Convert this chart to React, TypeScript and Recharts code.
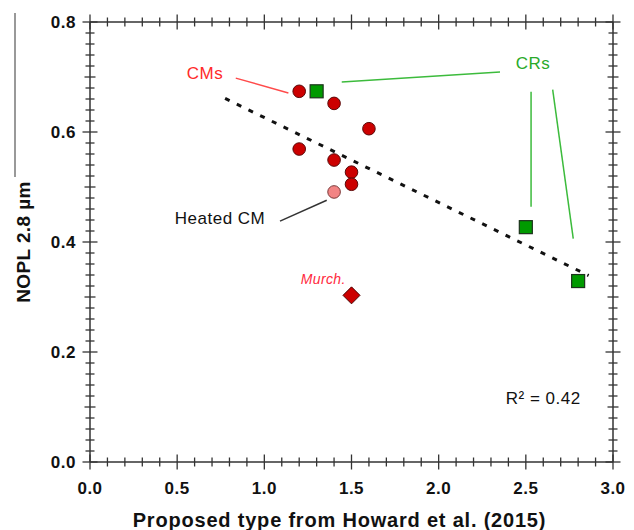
import React from "react";
import {
  ReferenceDot,
  ReferenceLine,
  Scatter,
  ScatterChart,
  XAxis,
  YAxis
} from "recharts";

// values
const cmPoints = [
  { x: 1.2, y: 0.674 },
  { x: 1.2, y: 0.569 },
  { x: 1.4, y: 0.652 },
  { x: 1.6, y: 0.606 },
  { x: 1.4, y: 0.549 },
  { x: 1.5, y: 0.527 },
  { x: 1.5, y: 0.505 }
];
const heatedCmPoints = [{ x: 1.4, y: 0.491 }];
const crPoints = [
  { x: 1.3, y: 0.674 },
  { x: 2.5, y: 0.427 },
  { x: 2.8, y: 0.329 }
];
const murchisonPoints = [{ x: 1.5, y: 0.303 }];
const trendLine = [
  { x: 0.775, y: 0.661 },
  { x: 2.86, y: 0.339 }
];

const xMajorTicks = [0, 0.5, 1, 1.5, 2, 2.5, 3];
const yMajorTicks = [0, 0.2, 0.4, 0.6, 0.8];
const xMinorStep = 0.1;
const yMinorStep = 0.02;

const notes = [
  { text: "CMs", x: 0.66, y: 0.707, color: "#ff2a2a", size: 17, italic: false },
  { text: "CRs", x: 2.541, y: 0.725, color: "#2aaa2a", size: 17, italic: false },
  { text: "Heated CM", x: 0.746, y: 0.443, color: "#111", size: 17, italic: false },
  { text: "R² = 0.42", x: 2.6, y: 0.117, color: "#111", size: 17, italic: false },
  { text: "Murch.", x: 1.338, y: 0.332, color: "#ff2a40", size: 14, italic: true }
];

const leaders = [
  { x1: 0.836, y1: 0.698, x2: 1.138, y2: 0.671, color: "#ff4a4a" },
  { x1: 1.444, y1: 0.691, x2: 2.352, y2: 0.709, color: "#3cbb3c" },
  { x1: 2.53, y1: 0.673, x2: 2.53, y2: 0.464, color: "#3cbb3c" },
  { x1: 2.654, y1: 0.677, x2: 2.772, y2: 0.406, color: "#3cbb3c" },
  { x1: 1.09, y1: 0.438, x2: 1.358, y2: 0.476, color: "#333" }
];

const FONT = "'Liberation Sans', Arial, sans-serif";
const AXIS = "#333";

function makeTicks(max: number, step: number) {
  const out: number[] = [];
  for (let i = 0; i * step <= max + 1e-9; i++) out.push(Math.round(i * step * 1000) / 1000);
  return out;
}
const xTicks = makeTicks(3, xMinorStep);
const yTicks = makeTicks(0.8, yMinorStep);

const isMajor = (v: number, list: number[]) => list.some((m) => Math.abs(m - v) < 1e-6);

function tickLen(v: number, list: number[], mid: number) {
  if (isMajor(v, list)) return 7.5;
  if (Math.abs(v / mid - Math.round(v / mid)) < 1e-6) return 5.5;
  return 4.5;
}

const labelStyle = {
  fontFamily: FONT,
  fontWeight: 700,
  fontSize: 17,
  letterSpacing: 0.5,
  fill: "#111"
};

function XTick(props: any, withLabel: boolean) {
  const { x, y, payload } = props;
  const h = tickLen(payload.value, xMajorTicks, 0.5);
  return (
    <g>
      <line x1={x} x2={x} y1={y - h} y2={y + h} stroke={AXIS} strokeWidth={1.3} />
      {withLabel && isMajor(payload.value, xMajorTicks) && (
        <text x={x} y={y + 32} textAnchor="middle" style={labelStyle}>
          {payload.value.toFixed(1)}
        </text>
      )}
    </g>
  );
}

function YTick(props: any, withLabel: boolean) {
  const { x, y, payload } = props;
  const h = tickLen(payload.value, yMajorTicks, 0.1);
  return (
    <g>
      <line x1={x - h} x2={x + h} y1={y} y2={y} stroke={AXIS} strokeWidth={1.3} />
      {withLabel && isMajor(payload.value, yMajorTicks) && (
        <text x={x - 14} y={y} dy="0.36em" textAnchor="end" style={labelStyle}>
          {payload.value.toFixed(1)}
        </text>
      )}
    </g>
  );
}

const circle = (fill: string, stroke: string) => (p: any) => (
  <circle cx={p.cx} cy={p.cy} r={6.3} fill={fill} stroke={stroke} strokeWidth={1} />
);
const square = (p: any) => (
  <rect x={p.cx - 6.5} y={p.cy - 6.5} width={13} height={13} fill="#009a00" stroke="#1c331c" strokeWidth={1.2} />
);
const diamond = (p: any) => (
  <polygon
    points={`${p.cx},${p.cy - 8.5} ${p.cx + 8.5},${p.cy} ${p.cx},${p.cy + 8.5} ${p.cx - 8.5},${p.cy}`}
    fill="#cc0000"
    stroke="#4a0000"
    strokeWidth={1}
  />
);

const noteContent = (n: (typeof notes)[number]) => (props: any) => {
  const vb = props.viewBox;
  const cx = vb.x + vb.width / 2;
  const cy = vb.y + vb.height / 2;
  return (
    <text
      x={cx}
      y={cy}
      dy="0.36em"
      textAnchor="middle"
      style={{
        fontFamily: FONT,
        fontSize: n.size,
        fontStyle: n.italic ? "italic" : "normal",
        letterSpacing: n.italic ? 0.4 : 0.5,
        fill: n.color
      }}
    >
      {n.text}
    </text>
  );
};

export default function App() {
  return (
    <div style={{ position: "absolute", left: 0, top: 0, width: 634, height: 530, background: "#fff" }}>
      <div style={{ position: "absolute", left: 14, top: 13, width: 1.5, height: 164, background: "#999" }} />
      <ScatterChart width={634} height={530} margin={{ top: 21, right: 20, bottom: 8, left: 20 }}>
        <XAxis
          type="number"
          dataKey="x"
          domain={[0, 3]}
          ticks={xTicks}
          interval={0}
          height={60}
          tickSize={0}
          tickMargin={0}
          axisLine={{ stroke: AXIS, strokeWidth: 1.5 }}
          tick={(p: any) => XTick(p, true)}
          label={{
            content: (props: any) => {
              const vb = props.viewBox;
              return (
                <text
                  x={vb.x + vb.width / 2 - 12}
                  y={vb.y + 65}
                  textAnchor="middle"
                  style={{ fontFamily: FONT, fontWeight: 700, fontSize: 20, letterSpacing: 0.8, fill: "#111" }}
                >
                  Proposed type from Howard et al. (2015)
                </text>
              );
            }
          }}
        />
        <XAxis
          xAxisId="top"
          orientation="top"
          type="number"
          dataKey="x"
          domain={[0, 3]}
          ticks={xTicks}
          interval={0}
          height={1}
          tickSize={0}
          tickMargin={0}
          axisLine={{ stroke: AXIS, strokeWidth: 1.5 }}
          tick={(p: any) => XTick(p, false)}
        />
        <YAxis
          type="number"
          dataKey="y"
          domain={[0, 0.8]}
          ticks={yTicks}
          interval={0}
          width={70}
          tickSize={0}
          tickMargin={0}
          axisLine={{ stroke: AXIS, strokeWidth: 1.5 }}
          tick={(p: any) => YTick(p, true)}
          label={{
            content: (props: any) => {
              const vb = props.viewBox;
              const cx = vb.x + 3;
              const cy = vb.y + vb.height / 2;
              return (
                <text
                  x={cx}
                  y={cy}
                  dy="0.36em"
                  textAnchor="middle"
                  transform={`rotate(-90 ${cx} ${cy})`}
                  style={{ fontFamily: FONT, fontWeight: 700, fontSize: 19, letterSpacing: 0.4, fill: "#111" }}
                >
                  NOPL 2.8 µm
                </text>
              );
            }
          }}
        />
        <YAxis
          yAxisId="right"
          orientation="right"
          type="number"
          dataKey="y"
          domain={[0, 0.8]}
          ticks={yTicks}
          interval={0}
          width={1}
          tickSize={0}
          tickMargin={0}
          axisLine={{ stroke: AXIS, strokeWidth: 1.5 }}
          tick={(p: any) => YTick(p, false)}
        />

        <ReferenceLine
          segment={trendLine}
          stroke="#111"
          strokeWidth={3}
          strokeDasharray="5 8"
        />
        {leaders.map((l, i) => (
          <ReferenceLine
            key={i}
            segment={[
              { x: l.x1, y: l.y1 },
              { x: l.x2, y: l.y2 }
            ]}
            stroke={l.color}
            strokeWidth={1.5}
          />
        ))}
        {notes.map((n, i) => (
          <ReferenceDot key={i} x={n.x} y={n.y} r={0} fill="none" stroke="none" label={{ content: noteContent(n) }} />
        ))}

        <Scatter data={cmPoints} shape={circle("#cc0000", "#5a0a0a")} isAnimationActive={false} />
        <Scatter data={heatedCmPoints} shape={circle("#f28484", "#7a3a3a")} isAnimationActive={false} />
        <Scatter data={crPoints} shape={square} isAnimationActive={false} />
        <Scatter data={murchisonPoints} shape={diamond} isAnimationActive={false} />
        <Scatter xAxisId="top" yAxisId="right" data={crPoints} shape={() => <g />} isAnimationActive={false} />
      </ScatterChart>
    </div>
  );
}
